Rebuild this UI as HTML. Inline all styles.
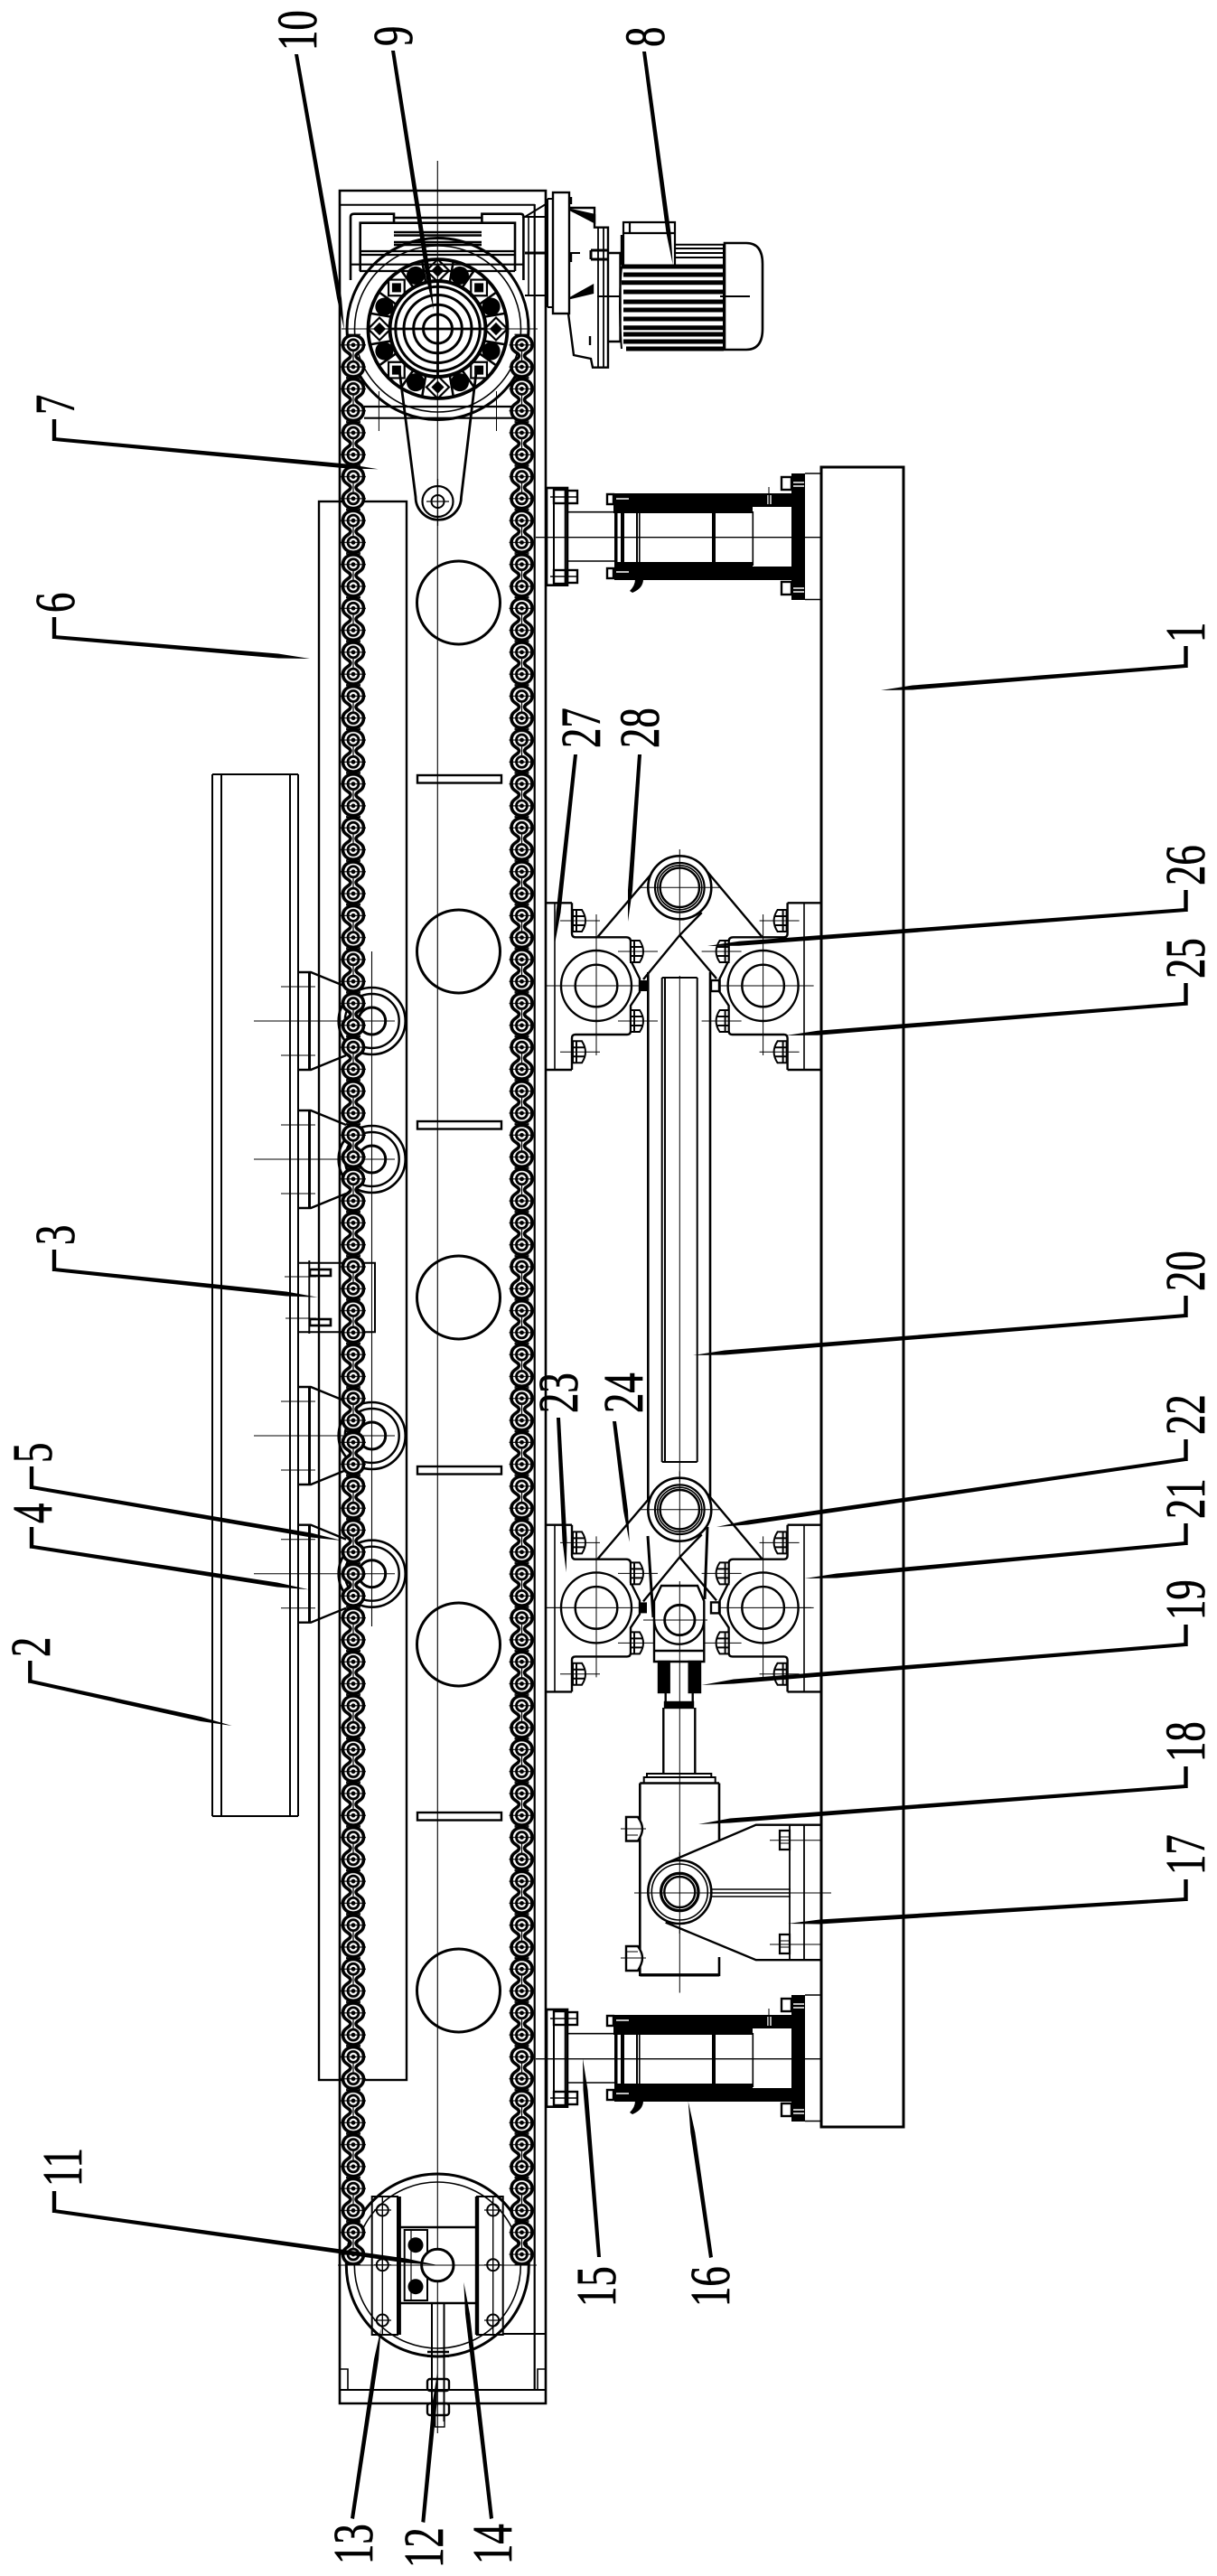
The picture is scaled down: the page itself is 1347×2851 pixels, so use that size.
<!DOCTYPE html>
<html><head><meta charset="utf-8"><title>Diagram</title>
<style>html,body{margin:0;padding:0;background:#fff}svg{display:block}
text{font-family:"Liberation Serif","Noto Serif CJK SC",serif;font-size:62px;fill:#000;stroke:#000;stroke-width:.7}</style></head>
<body>
<svg xmlns="http://www.w3.org/2000/svg" width="1347" height="2851" viewBox="0 0 1347 2851">
<defs>
<pattern id="chain" patternUnits="userSpaceOnUse" x="377" y="369.6" width="28" height="48.58">
<g transform="translate(14,12.2)">
<path d="M-3,12.15C-3,8-11.5,8-11.5,0C-11.5,-7-6,-10.8-0,-10.8C6,-10.8 11.5,-7 11.5,0C11.5,8 3,8 3,12.15C3,16 11.5,16.5 11.5,24.29C11.5,31 6,35.1 0,35.1C-6,35.1-11.5,31-11.5,24.29C-11.5,16.5-3,16-3,12.15Z" fill="#fff" stroke="#000" stroke-width="3.6"/>
<g fill="#fff" stroke="#000" stroke-width="2.8"><circle r="6"/><circle cy="24.29" r="6"/></g>
<circle r="2.4" fill="#000"/><circle cy="24.29" r="2.4" fill="#000"/>
<path d="M-14,0H14M-14,24.29H14M-8,-11.6H8M-8,-13.6H8M-8,35.7H8M-8,37H8" stroke="#000" stroke-width="1.2"/>
<path d="M0,5V19" stroke="#000" stroke-width="1.2"/>
</g></pattern>

<g id="nutL" fill="none" stroke="#000" stroke-width="2"><path d="M-6,-12H4Q8,-6 8,0Q8,6 4,12H-6Z" fill="#fff"/><path d="M-6,-5H7M-6,5H7M-2,-12V12"/><path d="M-20,0H24" stroke-width="1"/></g>
<g id="nutR" fill="none" stroke="#000" stroke-width="2"><path d="M6,-12H-4Q-8,-6-8,0Q-8,6-4,12H6Z" fill="#fff"/><path d="M6,-5H-7M6,5H-7M2,-12V12"/><path d="M20,0H-24" stroke-width="1"/></g>

<g id="halfBr" fill="none" stroke="#000" stroke-width="2.4">
<path d="M633,999.3V1033Q633,1037.3 637,1037.3H693Q698,1037.3 698,1042V1063L708,1083V1098L698,1113V1141Q698,1145 694,1145H637Q633,1145 633,1149V1184"/>
<circle cx="660" cy="1091" r="39"/><circle cx="660" cy="1091" r="23.3"/>
<path d="M660,1012V1168M604,1091H712" stroke-width="1"/>
<use href="#nutL" x="640" y="1019"/><use href="#nutL" x="640" y="1164.3"/>
<use href="#nutL" x="704" y="1053"/><use href="#nutL" x="704" y="1130"/>
</g>
<g id="pivot">
<use href="#halfBr"/><use href="#halfBr" transform="translate(1504.6,0) scale(-1,1)"/>
<g fill="none" stroke="#000" stroke-width="2.4">
<path d="M604,999.3H633M604,1184H633M871.6,999.3H909M871.6,1184H909"/>
<path d="M661.7,1036.7L722,966M783,965L843.3,1036.7M776.7,1010L752.3,1035L712,1084M752.3,1035L793,1083"/>
<path d="M604,1091H660M845,1091H898" stroke-width="1"/>
<path d="M614,999V1184M890,999V1184" stroke-width="1.6"/>
</g>
<rect x="707" y="1085" width="9" height="12" fill="#000"/>
<rect x="787" y="1085" width="9" height="12" fill="#fff" stroke="#000" stroke-width="2.4"/>
<circle cx="752.3" cy="982.3" r="35" fill="#fff" stroke="#000" stroke-width="2.6"/>
<circle cx="752.3" cy="982.3" r="27.3" fill="#fff" stroke="#000" stroke-width="2.2"/>
<circle cx="752.3" cy="982.3" r="24.5" fill="none" stroke="#000" stroke-width="1.6"/>
<circle cx="752.3" cy="982.3" r="21.7" fill="#fff" stroke="#000" stroke-width="2.4"/>
<path d="M707,982.3H797M752.3,940V1035" stroke="#000" stroke-width="1"/>
</g>

<g id="roller" fill="none" stroke="#000">
<circle cx="411.7" r="37" stroke-width="2.6"/><circle cx="411.7" r="30" stroke-width="2.4"/><circle cx="411.7" r="15" stroke-width="3"/>
<path d="M330,-54H344L383,-38M330,54H344L383,38" stroke-width="2.4"/>
<path d="M342.5,-54V54" stroke-width="3"/>
<path d="M311,-38H349M311,38H349M281,0H437" stroke-width="1"/>
</g>

<g id="cyl">
<rect x="605" y="2224" width="23" height="107.7" fill="#fff" stroke="#000" stroke-width="2.6"/>
<path d="M613,2224V2332M625.7,2224V2332" stroke="#000" stroke-width="2"/>
<g fill="none" stroke="#000" stroke-width="2.4">
<rect x="628" y="2227" width="11" height="14"/><rect x="628" y="2315" width="11" height="14"/>
<rect x="613" y="2226" width="13" height="15"/><rect x="613" y="2315" width="13" height="15"/>
<rect x="672" y="2231" width="7" height="11"/><rect x="672" y="2313" width="7" height="11"/>
<rect x="865" y="2212" width="11" height="14"/><rect x="865" y="2328" width="11" height="14"/>
</g>
<path d="M609,2234H640M609,2322H640M628,2250.7H680M628,2305H680" stroke="#000" stroke-width="1.6"/>
<path d="M679,2230H877V2245H833V2252H679ZM680,2306H833V2311H877V2326H680Z" fill="#000"/>
<rect x="876" y="2208" width="15" height="140" fill="#000"/>
<rect x="680" y="2251" width="3.5" height="56" fill="#000"/><rect x="687" y="2251" width="4" height="56" fill="#000"/>
<rect x="704" y="2251" width="2" height="56" fill="#000"/><rect x="707" y="2251" width="1.6" height="56" fill="#000"/>
<rect x="788" y="2251" width="4" height="56" fill="#000"/><rect x="832.5" y="2250" width="1.6" height="60" fill="#000"/>
<path d="M682,2236H696M682,2317H696M850,2232V2242M853,2232V2242M878,2218H890M878,2222H890M878,2335H890M878,2339H890" stroke="#fff" stroke-width="1.4"/>
<path d="M706,2325H712Q712,2335 700,2340L697,2338Q703,2332 703,2325Z" fill="#000"/>
<path d="M593,2278.7H908M891,2208H908M891,2347.5H908" stroke="#000" stroke-width="1.4"/>
<path d="M851,2223V2245" stroke="#000" stroke-width="1"/>
</g>

<g id="dia"><rect x="479.5" y="294.5" width="10" height="10" fill="#000" transform="rotate(45 484.5 299.5)"/>
<path d="M484.5,287L497,299.5L484.5,312L472,299.5Z" fill="none" stroke="#000" stroke-width="2.2"/></g>
<g id="blob"><ellipse cx="484.5" cy="300" rx="10" ry="10" fill="#000"/><path d="M472,289L477,311M497,289L492,311" stroke="#000" stroke-width="2.6"/></g>
</defs>

<rect width="1347" height="2851" fill="#fff"/>

<!-- frame -->
<g fill="none" stroke="#000">
<path d="M376,211H604V2660H376Z" stroke-width="2.6"/>
<path d="M376,226.7H592M604,2583H557M376,2645H604" stroke-width="2"/>
<path d="M591.7,226V2645" stroke-width="2.2"/>
<path d="M376,2622H385V2645M604,2622H595V2645" stroke-width="1.6"/>
<!-- plate 1 -->
<rect x="909" y="517" width="91" height="1837" stroke-width="3"/>
<!-- beam 2 -->
<path d="M235,857V2010M245,857V2010" stroke-width="2"/><path d="M321,857V2010M330,857V2010" stroke-width="2"/>
<path d="M235,857H330M235,2010H330" stroke-width="2"/>
<!-- plate 6 -->
<rect x="353" y="555" width="97" height="1747" stroke-width="2.4"/>
<!-- holes -->
<g stroke-width="3"><circle cx="507.5" cy="667" r="46"/><circle cx="507.5" cy="1053" r="46"/><circle cx="507.5" cy="1436" r="46"/><circle cx="507.5" cy="1820" r="46"/><circle cx="507.5" cy="2203" r="46"/></g>
<g stroke-width="2.4"><rect x="462" y="858" width="93" height="8.5"/><rect x="462" y="1241" width="93" height="8.5"/><rect x="462" y="1623" width="93" height="8.5"/><rect x="462" y="2006" width="93" height="8.5"/></g>
<!-- centerline -->
<path d="M484.3,178V2693" stroke-width="1.1"/>
<path d="M411.5,1053V1800" stroke-width="1.1"/>
<!-- connector 3 -->
<path d="M330,1397.7H415V1474.3H330" stroke-width="2"/><path d="M342.3,1395V1476" stroke-width="2"/>
<rect x="343" y="1405" width="23" height="7" stroke-width="2.6"/><rect x="343" y="1460" width="23" height="7" stroke-width="2.6"/>
<path d="M315,1413H350M316,1459H350" stroke-width="1"/>
</g>
<use href="#roller" y="1130"/><use href="#roller" y="1283"/><use href="#roller" y="1589"/><use href="#roller" y="1741.7"/>

<!-- head sprocket housing -->
<g fill="none" stroke="#000" stroke-width="2.6">
<path d="M388,310V240Q388,236.7 392,236.7H436V246.7M533.4,246.7V236.7H576Q579.4,236.7 579.4,240V310M398.7,300V246.7H570V300"/>
<path d="M436,241H533M436,257H533M436,260.5H533M436,268H533M436,271H533" stroke-width="2.6"/>
<path d="M398.7,278H570M398.7,282H570M388,292.7H579.4M398,300H570" stroke-width="2.2"/>
<path d="M403,450H568M403,462.7H568" stroke-width="2.2"/>
<path d="M419.4,433V477M549.5,433V477M378,364H595" stroke-width="1"/>
<path d="M585,240V327" stroke-width="1.6"/><path d="M581,240H604L581,240L604,226M581,327H604" stroke-width="2"/>
<path d="M581,280H604" stroke-width="3"/>
</g>
<!-- sprocket 9 -->
<g fill="none" stroke="#000">
<circle cx="484.5" cy="364" r="100.5" stroke-width="3"/><circle cx="484.5" cy="364" r="92" stroke-width="1.6"/>
<circle cx="484.5" cy="364" r="77" stroke-width="3.8"/><circle cx="484.5" cy="364" r="53" stroke-width="4"/>
<circle cx="484.5" cy="364" r="46.7" stroke-width="3"/><circle cx="484.5" cy="364" r="37.5" stroke-width="3"/>
<circle cx="484.5" cy="364" r="26.8" stroke-width="3"/><circle cx="484.5" cy="364" r="16" stroke-width="3"/>
<path d="M431,364H538M484.5,312V416" stroke-width="2.8"/>
</g>
<use href="#dia"/><use href="#dia" transform="rotate(45 484.5 364)"/><use href="#dia" transform="rotate(90 484.5 364)"/><use href="#dia" transform="rotate(135 484.5 364)"/><use href="#dia" transform="rotate(180 484.5 364)"/><use href="#dia" transform="rotate(225 484.5 364)"/><use href="#dia" transform="rotate(270 484.5 364)"/><use href="#dia" transform="rotate(315 484.5 364)"/>
<use href="#blob" transform="rotate(22.5 484.5 364)"/><use href="#blob" transform="rotate(67.5 484.5 364)"/><use href="#blob" transform="rotate(112.5 484.5 364)"/><use href="#blob" transform="rotate(157.5 484.5 364)"/><use href="#blob" transform="rotate(202.5 484.5 364)"/><use href="#blob" transform="rotate(247.5 484.5 364)"/><use href="#blob" transform="rotate(292.5 484.5 364)"/><use href="#blob" transform="rotate(337.5 484.5 364)"/>
<!-- arm 7 -->
<g fill="none" stroke="#000">
<path d="M441.6,406.7L460,550A24.5,24.5 0 1 0 510.5,550L527.7,406.7" stroke-width="2.8"/>
<circle cx="484.5" cy="555" r="17" stroke-width="2.2"/><circle cx="484.5" cy="555" r="7" stroke-width="2"/>
<path d="M472,555H497M484.5,530V582" stroke-width="1.2"/>
</g>

<!-- gearbox and motor -->
<g fill="none" stroke="#000" stroke-width="2.4">
<rect x="612" y="213" width="18" height="134" fill="#fff"/><path d="M606,220V340M606,220H612M606,340H612" stroke-width="2"/>
<path d="M630,230H658V251.7H673V406.7H656L654,397L635,393L629,347"/>
<path d="M662,252V406M668,252V406" stroke-width="1.8"/>
<path d="M631,232L658,246L658,238ZM631,330L656,316V324Z" fill="#000"/>
<path d="M654,277H672M654,287H672M654,277V287" stroke-width="3"/>
<path d="M673,280H686.5V378H673"/>
<path d="M661,328H686M797,328H830M630,280H642" stroke-width="2"/>
<path d="M632,218V226M632,280V290M653,372V382" stroke-width="2.4"/>
<path d="M690,293V246H747V293M697,246V258M690,258H748" stroke-width="2.2"/>
<path d="M688,260V293" stroke-width="2.4"/>
<path d="M747,270.7H801M747,275H801M747,280H801M747,285H801" stroke-width="2"/>
<path d="M801,270V387" stroke-width="2"/>
<path d="M802,269H826Q844,269 844,292V364Q844,387 826,387H802Z" stroke-width="2.6"/>
<g stroke-width="5"><path d="M688,295H801M690,304H801M688,312.7H801M690,323H801M690,334H801M690,343H801M690,353H801M690,362.7H801M690,370H801M690,378H801M693,386H801"/></g>
<path d="M688,295Q684,340 688,386" stroke-width="2"/>
</g>

<use href="#cyl"/><use href="#cyl" y="-1684"/>

<!-- rod 20 -->
<g fill="none" stroke="#000" stroke-width="2.6">
<path d="M717.3,1076V1660M786,1076V1660"/>
<path d="M732.7,1082V1618M736,1082V1618M771.7,1082V1618M732.7,1082H771.7M732.7,1618H771.7" stroke-width="2"/>
</g>
<use href="#pivot"/><use href="#pivot" y="688.4"/>
<path d="M752.3,1080V1640" stroke="#000" stroke-width="1"/>

<!-- rod end / cylinder 18 -->
<g fill="none" stroke="#000" stroke-width="2.4">
<path d="M724,1839V1772L732,1755H772L779.3,1772V1839Z" fill="#fff"/>
<path d="M724,1827H779.3M724,1792A27.5,27.5 0 0 0 779.3,1792"/>
<circle cx="752.3" cy="1793" r="16.7" stroke-width="2.8"/>
<path d="M712,1793H783M752.3,1750V1990" stroke-width="1"/>
<path d="M717,1700L723,1790M783,1690L780,1770" stroke-width="3"/>
<rect x="729" y="1839" width="11.7" height="34" fill="#000"/><rect x="762.7" y="1839" width="12.3" height="34" fill="#000"/>
<path d="M736.7,1873V1888H766.7V1873"/><rect x="736" y="1884" width="31" height="6" fill="#000"/>
<path d="M734.3,1890V1963.6M769.3,1890V1963.6"/>
<path d="M716,1967V1963H787.3V1967M712.7,1973.5V1967H791.7V1973.5" stroke-width="2"/>
<path d="M708.3,1973.5V2185.8H796V2166M796,1973.5V2036" stroke-width="2.6"/><path d="M708.3,1973.5H796"/><path d="M708.3,2185.8H796" stroke-width="3.4"/>
<path d="M693,2011H706Q711,2018 711,2024Q711,2030 706,2037.5H693ZM693,2154H706Q711,2161 711,2167Q711,2173 706,2181H693Z" fill="#fff"/>
<path d="M687,2024H715M687,2167H715M693,2031H706M693,2160H706" stroke-width="1"/>
<path d="M752.3,1990V2205.5" stroke-width="1"/>
<!-- ear 17 -->
<path d="M736.7,2062.4L836.7,2019.7H909M736.7,2127.6L836.7,2169.2H909" stroke-width="2.4"/>
<path d="M874,2019.7V2169M890,2019.7V2169" stroke-width="1.8"/>
<path d="M783,2091H875M783,2095H875M783,2099H875" stroke-width="1.4"/>
<circle cx="752.3" cy="2094" r="35" fill="#fff" stroke-width="2.6"/><circle cx="752.3" cy="2094" r="31" stroke-width="1.6"/>
<circle cx="752.3" cy="2094" r="20.7" stroke-width="3.2"/><circle cx="752.3" cy="2094" r="17" stroke-width="2.4"/>
<path d="M702,2095H920M752.3,2050V2140" stroke-width="1"/>
<path d="M863,2026H874V2047H863ZM863,2141H874V2162H863Z" stroke-width="2.2"/>
<path d="M852,2036.8H908M852,2152H908M863,2033H874M863,2040H874M863,2148H874M863,2155H874" stroke-width="1"/>
</g>

<!-- tail sprocket -->
<g fill="none" stroke="#000">
<circle cx="484.3" cy="2507" r="101" stroke-width="3"/><circle cx="484.3" cy="2507" r="92" stroke-width="1.6"/>
<rect x="411.7" y="2431" width="28.3" height="153" stroke-width="2"/><rect x="528" y="2431" width="28.7" height="153" stroke-width="2"/>
<path d="M423.3,2431V2584M545.7,2431V2584" stroke-width="1.4"/>
<path d="M441.7,2431V2584M528,2431V2584" stroke-width="4.4"/>
<path d="M443,2465H527M443,2549H527" stroke-width="2.4"/>
<rect x="447.7" y="2468" width="25.3" height="78" stroke-width="2"/>
<path d="M455,2468V2546" stroke-width="1.2"/>
<circle cx="484.3" cy="2507" r="17.7" fill="#fff" stroke-width="3"/>
<path d="M374,2507H594" stroke-width="1.1"/>
<path d="M478,2549V2680M491.5,2549V2680" stroke-width="2"/>
<path d="M473,2603H497" stroke-width="2.4"/><path d="M473,2608H497" stroke-width="2"/>
<rect x="473" y="2633" width="24" height="13" rx="3" stroke-width="2.4"/><rect x="473" y="2660" width="24" height="13" rx="3" stroke-width="2.4"/>
<rect x="481.7" y="2673" width="10.3" height="13" stroke-width="1.4"/>
<g stroke-width="2"><circle cx="423.3" cy="2446" r="6.5"/><circle cx="423.3" cy="2506.7" r="6.5"/><circle cx="423.3" cy="2568" r="6.5"/><circle cx="545.7" cy="2446" r="6.5"/><circle cx="545.7" cy="2506.7" r="6.5"/><circle cx="545.7" cy="2568" r="6.5"/></g>
<path d="M414,2446H433M414,2506.7H433M414,2568H433M536,2446H555M536,2506.7H555M536,2568H555" stroke-width="1.2"/>
</g>
<circle cx="460" cy="2484.7" r="8.5" fill="#000"/><circle cx="460" cy="2530.7" r="8.5" fill="#000"/>

<!-- chains -->
<rect x="377" y="369.6" width="28" height="2137" fill="url(#chain)"/>
<g transform="translate(186.5,0)"><rect x="377" y="369.6" width="28" height="2137" fill="url(#chain)"/></g>

<!-- leaders -->
<g fill="#000">
<path d="M326,60L373,330L381,365L378,330L330,60Z"/>
<path d="M433,56L472,309L480,343L477,308L437,56Z"/>
<path d="M711,57L737.5,258L744.7,293L742.5,258L715,57Z"/>
<path d="M60,484L384,513.5L418.6,519.3L384,518.5L60,488Z"/>
<path d="M60,703L308,723.5L343,729L308,728.5L60,707Z"/>
<path d="M60,1403L317,1429.5L351.7,1435.7L317,1434.5L60,1407Z"/>
<path d="M60,2445L449,2499.5L483.3,2506.7L449,2504.5L60,2449Z"/>
<path d="M35,1644L344,1696.5L378.3,1705L344,1701.5L35,1648Z"/>
<path d="M35,1709.7L307,1751.5L341.7,1759.3L307,1756.5L35,1713.7Z"/>
<path d="M33.3,1858.7L222,1900L256.7,1910L222,1905L33.3,1862.7Z"/>
<path d="M388,2787L414,2611L421.7,2576.7L419,2611L392,2788Z"/>
<path d="M466.3,2791L478.5,2660L484.3,2625L483.5,2660L470.3,2792Z"/>
<path d="M546,2787L520,2561L513.3,2526L515,2561L542,2788Z"/>
<path d="M665,2498L650.5,2313L645,2278.3L645.5,2313L661,2498Z"/>
<path d="M789,2498L769.3,2360L761.7,2325.7L764.3,2360L785,2499Z"/>
<path d="M639,835L620.5,1010L614,1045L615.5,1010L635,835Z"/>
<path d="M710,835L700,985L695,1020L695,985L706,835Z"/>
<path d="M616,1569L622.5,1705L626.7,1740L627.5,1705L620,1569Z"/>
<path d="M678,1573L690,1672L696.7,1706.7L695,1672L682,1573Z"/>
<path d="M1312.5,735L1010,758.5L975,764L1010,763.5L1312.5,739Z"/>
<path d="M1312.5,1005L818,1041.8L783,1047L818,1046.8L1312.5,1009Z"/>
<path d="M1312.5,1108.7L905,1140.7L870,1146L905,1145.7L1312.5,1112.7Z"/>
<path d="M1312.5,1454L802,1494.5L767,1500L802,1499.5L1312.5,1458Z"/>
<path d="M1312.5,1613L828,1682.5L793,1690L828,1687.5L1312.5,1617Z"/>
<path d="M1312.5,1706L926,1741.5L890.7,1747L926,1746.5L1312.5,1710Z"/>
<path d="M1312.5,1818L812,1858.5L776.7,1865L812,1863.5L1312.5,1822Z"/>
<path d="M1312.5,1975L808,2012.5L773,2019L808,2017.5L1312.5,1979Z"/>
<path d="M1312.5,2100L907,2124.5L872,2129L907,2129.5L1312.5,2104Z"/>
</g>
<!-- hooks -->
<g stroke="#000" stroke-width="4.4" fill="none">
<path d="M60,464V488M60,683V707M60,1383V1407M60,2425V2449M35,1623V1648M35,1690V1713.7M33.3,1838V1862.7"/>
<path d="M1312.5,715V739M1312.5,985V1009M1312.5,1088V1112.7M1312.5,1434V1458M1312.5,1593V1617M1312.5,1686V1710M1312.5,1798V1822M1312.5,1955V1979M1312.5,2080V2104"/>
</g>

<!-- labels -->
<text transform="translate(1333,711) rotate(-90) scale(.72,1)">1</text>
<text transform="translate(55,1834) rotate(-90) scale(.72,1)">2</text>
<text transform="translate(82,1378) rotate(-90) scale(.72,1)">3</text>
<text transform="translate(57,1686) rotate(-90) scale(.72,1)">4</text>
<text transform="translate(57,1619) rotate(-90) scale(.72,1)">5</text>
<text transform="translate(82,678) rotate(-90) scale(.72,1)">6</text>
<text transform="translate(82,459) rotate(-90) scale(.72,1)">7</text>
<text transform="translate(735,52) rotate(-90) scale(.72,1)">8</text>
<text transform="translate(456,51) rotate(-90) scale(.72,1)">9</text>
<text transform="translate(350,56) rotate(-90) scale(.72,1)">10</text>
<text transform="translate(90,2420) rotate(-90) scale(.72,1)">11</text>
<text transform="translate(490,2842) rotate(-90) scale(.72,1)">12</text>
<text transform="translate(412,2838) rotate(-90) scale(.72,1)">13</text>
<text transform="translate(566,2838) rotate(-90) scale(.72,1)">14</text>
<text transform="translate(681,2553) rotate(-90) scale(.72,1)">15</text>
<text transform="translate(807,2553) rotate(-90) scale(.72,1)">16</text>
<text transform="translate(1333,2075) rotate(-90) scale(.72,1)">17</text>
<text transform="translate(1333,1950) rotate(-90) scale(.72,1)">18</text>
<text transform="translate(1333,1793) rotate(-90) scale(.72,1)">19</text>
<text transform="translate(1333,1429) rotate(-90) scale(.72,1)">20</text>
<text transform="translate(1333,1681) rotate(-90) scale(.72,1)">21</text>
<text transform="translate(1333,1588) rotate(-90) scale(.72,1)">22</text>
<text transform="translate(639,1564) rotate(-90) scale(.72,1)">23</text>
<text transform="translate(711,1564) rotate(-90) scale(.72,1)">24</text>
<text transform="translate(1333,1083) rotate(-90) scale(.72,1)">25</text>
<text transform="translate(1333,980) rotate(-90) scale(.72,1)">26</text>
<text transform="translate(664,828) rotate(-90) scale(.72,1)">27</text>
<text transform="translate(729,828) rotate(-90) scale(.72,1)">28</text>
</svg>
</body></html>
